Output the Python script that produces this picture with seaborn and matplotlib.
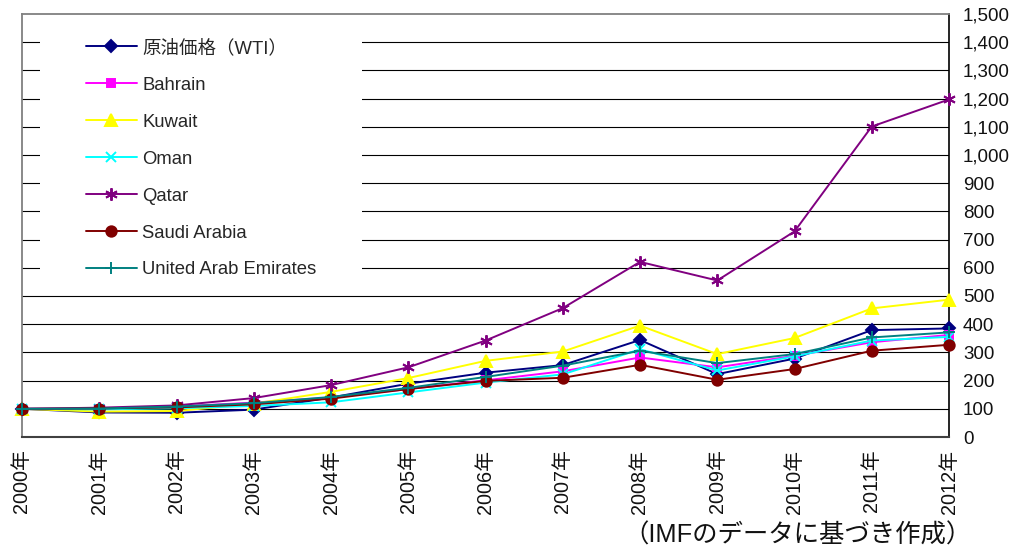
import matplotlib
matplotlib.use("Agg")
import matplotlib.pyplot as plt
import seaborn as sns
import numpy as np
from matplotlib.patches import Rectangle

years = ["2000年", "2001年", "2002年", "2003年", "2004年", "2005年", "2006年",
         "2007年", "2008年", "2009年", "2010年", "2011年", "2012年"]
wti = [100, 87, 86, 97, 140, 189, 228, 255, 344, 223, 278, 379, 385]
bahrain = [100, 101, 108, 122, 140, 170, 201, 233, 282, 247, 288, 336, 362]
kuwait = [100, 90, 92, 118, 160, 209, 270, 303, 395, 294, 351, 456, 487]
oman = [100, 98, 102, 110, 123, 158, 193, 222, 311, 236, 286, 342, 355]
qatar = [100, 104, 112, 138, 184, 247, 342, 457, 621, 555, 729, 1101, 1197]
saudi = [100, 101, 105, 116, 136, 170, 199, 210, 256, 203, 241, 306, 327]
uae = [100, 101, 108, 120, 142, 174, 213, 253, 306, 262, 294, 353, 371]

series_names = ["原油価格（WTI）", "Bahrain", "Kuwait", "Oman", "Qatar",
                "Saudi Arabia", "United Arab Emirates"]
series_values = [wti, bahrain, kuwait, oman, qatar, saudi, uae]
y_ticks = list(range(0, 1501, 100))
source_note = "（IMFのデータに基づき作成）"

colors = ["#000080", "#FF00FF", "#FFFF00", "#00FFFF", "#800080", "#800000", "#008080"]
markers = ["D", "s", "^", "x", (6, 2, 0), "o", "+"]
msizes = [6.5, 6, 8, 7.5, 9, 7.5, 9]

sns.set_style("white")
plt.rcParams["font.family"] = ["Liberation Sans", "Noto Sans CJK JP"]

fig = plt.figure(figsize=(10.15, 5.48), dpi=100)
ax = fig.add_axes([22 / 1015, 1 - 437 / 548, (949 - 22) / 1015, (437 - 14) / 548])

xs = np.arange(len(years))
for name, vals, c, m, ms in zip(series_names, series_values, colors, markers, msizes):
    sns.lineplot(x=xs, y=vals, ax=ax, color=c, marker=m, markersize=ms,
                 markeredgecolor=c, markerfacecolor=c, markeredgewidth=1.4,
                 linewidth=1.4, label=name, clip_on=False, zorder=5)

ax.set_xlim(0, len(years) - 1)
ax.set_ylim(0, 1500)
ax.set_yticks(y_ticks)
ax.set_yticklabels([f"{v:,}" for v in y_ticks])
ax.yaxis.tick_right()
ax.tick_params(axis="y", length=0, pad=10, labelsize=13.5, labelcolor="#111111")
ax.set_xticks(xs)
ax.set_xticklabels(years, rotation=90, va="top", ha="center")
ax.tick_params(axis="x", direction="in", length=5, width=1, color="#404040",
               pad=9, labelsize=14.3, labelcolor="#111111")
ax.set_xlabel("")
ax.set_ylabel("")

for y in y_ticks[1:-1]:
    ax.axhline(y, color="#000000", linewidth=0.8, zorder=1)

for side in ["left", "top"]:
    ax.spines[side].set_color("#808080")
    ax.spines[side].set_linewidth(1.3)
ax.spines["bottom"].set_color("#404040")
ax.spines["bottom"].set_linewidth(1.5)
ax.spines["right"].set_color("#000000")
ax.spines["right"].set_linewidth(1.2)

# white box behind legend
ax.add_patch(Rectangle(((40 - 22) / 927, (437 - 287) / 423), (362 - 40) / 927, (287 - 30) / 423,
                       transform=ax.transAxes, facecolor="white", edgecolor="none", zorder=2))

leg = ax.legend(loc="upper left", bbox_to_anchor=((86 - 22) / 927, (437 - 39) / 423),
                frameon=False, fontsize=13.3, handlelength=2.75, handletextpad=0.3,
                labelspacing=1.08, borderaxespad=0, borderpad=0)
leg.set_zorder(6)

fig.text(972 / 1015, 0 / 548, source_note, ha="right", va="bottom", fontsize=18.3,
         color="#111111")

fig.savefig("out.png", dpi=100, facecolor="white")
